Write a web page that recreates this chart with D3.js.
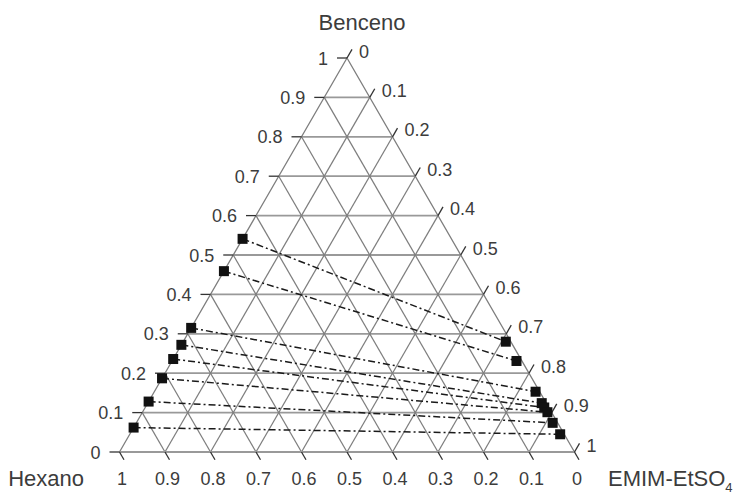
<!DOCTYPE html>
<html>
<head>
<meta charset="utf-8">
<script src="https://cdn.jsdelivr.net/npm/d3@7/dist/d3.min.js"></script>
<style>
  html, body { margin: 0; padding: 0; background: #fff; }
  svg { display: block; font-family: "Liberation Sans", Arial, sans-serif; }
</style>
</head>
<body>
<svg id="chart" width="742" height="495"></svg>
<script>
// Ternary phase diagram: Hexano / Benceno / EMIM-EtSO4 with tie lines

// Grid / tick fractions
const ticks = [0, 0.1, 0.2, 0.3, 0.4, 0.5, 0.6, 0.7, 0.8, 0.9, 1];
const tickLabels = ["0", "0.1", "0.2", "0.3", "0.4", "0.5", "0.6", "0.7", "0.8", "0.9", "1"];

// Raffinate phase (hexane-rich), mass fractions
const benzeneRaff = [0.541, 0.459, 0.315, 0.272, 0.236, 0.187, 0.128, 0.062];
const hexaneRaff  = [0.459, 0.541, 0.685, 0.728, 0.764, 0.813, 0.872, 0.938];

// Extract phase (ionic-liquid-rich), mass fractions
const benzeneExt = [0.280, 0.231, 0.153, 0.124, 0.113, 0.101, 0.074, 0.045];
const hexaneExt  = [0.011, 0.012, 0.009, 0.010, 0.010, 0.009, 0.011, 0.009];

const svg = d3.select("#chart");

// Triangle geometry via linear scales
const yScale = d3.scaleLinear().domain([0, 1]).range([452, 58]);      // benzene fraction -> y
const xScale = d3.scaleLinear().domain([0, 1]).range([119.5, 574.5]); // (emim + benzene/2) -> x

function pt(b, e) { return [xScale(e + b / 2), yScale(b)]; }

const gridColor = "#7e7e7e";
const hColor = "#999";
const textColor = "#3c3c3c";

const grid = svg.append("g");

// horizontal lines: constant benzene
ticks.slice(1, -1).forEach(b => {
  const p1 = pt(b, 0), p2 = pt(b, 1 - b);
  grid.append("line").attr("x1", p1[0]).attr("y1", p1[1]).attr("x2", p2[0]).attr("y2", p2[1])
    .attr("stroke", hColor).attr("stroke-width", 1.8);
});
// constant EMIM lines (parallel to left edge)
ticks.slice(1, -1).forEach(e => {
  const p1 = pt(0, e), p2 = pt(1 - e, e);
  grid.append("line").attr("x1", p1[0]).attr("y1", p1[1]).attr("x2", p2[0]).attr("y2", p2[1])
    .attr("stroke", gridColor).attr("stroke-width", 1.25);
});
// constant hexane lines (parallel to right edge)
ticks.slice(1, -1).forEach(h => {
  const p1 = pt(0, 1 - h), p2 = pt(1 - h, 0);
  grid.append("line").attr("x1", p1[0]).attr("y1", p1[1]).attr("x2", p2[0]).attr("y2", p2[1])
    .attr("stroke", gridColor).attr("stroke-width", 1.25);
});

// outer triangle
const A = pt(1, 0), L = pt(0, 0), R = pt(0, 1);
grid.append("path")
  .attr("d", d3.line()([L, A, R]))
  .attr("fill", "none").attr("stroke", gridColor).attr("stroke-width", 1.3);
grid.append("line").attr("x1", L[0]).attr("y1", L[1]).attr("x2", R[0]).attr("y2", R[1])
  .attr("stroke", hColor).attr("stroke-width", 1.8);

// Ticks and labels
const tickG = svg.append("g").attr("stroke", "#333").attr("stroke-width", 1.3);
const labelG = svg.append("g").attr("fill", textColor).attr("font-size", 18);
const tl = 10;

// Left axis: benzene
ticks.forEach((b, i) => {
  const p = pt(b, 0);
  tickG.append("line").attr("x1", p[0]).attr("y1", p[1]).attr("x2", p[0] - tl).attr("y2", p[1]);
  labelG.append("text").attr("x", p[0] - tl - 9).attr("y", p[1] + 6.5)
    .attr("text-anchor", "end").text(tickLabels[i]);
});
// Right axis: EMIM-EtSO4 (0 at apex, 1 at bottom right)
ticks.forEach((e, i) => {
  const p = pt(1 - e, e);
  tickG.append("line").attr("x1", p[0]).attr("y1", p[1])
    .attr("x2", p[0] + tl * 0.5).attr("y2", p[1] - tl * 0.866);
  labelG.append("text").attr("x", p[0] + 12).attr("y", p[1] - 0.5)
    .attr("text-anchor", "start").text(tickLabels[i]);
});
// Bottom axis: hexane (1 at left, 0 at right)
ticks.forEach((h, i) => {
  const p = pt(0, 1 - h);
  tickG.append("line").attr("x1", p[0]).attr("y1", p[1])
    .attr("x2", p[0] + 9 * 0.5).attr("y2", p[1] + 9 * 0.866);
  labelG.append("text").attr("x", p[0] + 2.5).attr("y", 485)
    .attr("text-anchor", "middle").text(tickLabels[i]);
});

// Component names
const titleG = svg.append("g").attr("fill", textColor).attr("font-size", 22);
titleG.append("text").attr("x", 362).attr("y", 30).attr("text-anchor", "middle").text("Benceno");
titleG.append("text").attr("x", 84).attr("y", 486).attr("text-anchor", "end").text("Hexano");
const emim = titleG.append("text").attr("x", 608).attr("y", 486).attr("text-anchor", "start");
emim.append("tspan").text("EMIM-EtSO");
emim.append("tspan").attr("font-size", 13).attr("dy", 6).text("4");

// Tie lines
const data = benzeneRaff.map((b, i) => ({
  raff: pt(b, 1 - b - hexaneRaff[i]),
  ext: pt(benzeneExt[i], 1 - benzeneExt[i] - hexaneExt[i])
}));

svg.append("g").selectAll("line").data(data).join("line")
  .attr("x1", d => d.raff[0]).attr("y1", d => d.raff[1])
  .attr("x2", d => d.ext[0]).attr("y2", d => d.ext[1])
  .attr("stroke", "#1a1a1a").attr("stroke-width", 1.5)
  .attr("stroke-dasharray", "7,3,2,3");

// Equilibrium points
const sq = 10;
const pts = data.flatMap(d => [d.raff, d.ext]);
svg.append("g").selectAll("rect").data(pts).join("rect")
  .attr("x", d => d[0] - sq / 2).attr("y", d => d[1] - sq / 2)
  .attr("width", sq).attr("height", sq)
  .attr("fill", "#111");
</script>
</body>
</html>
